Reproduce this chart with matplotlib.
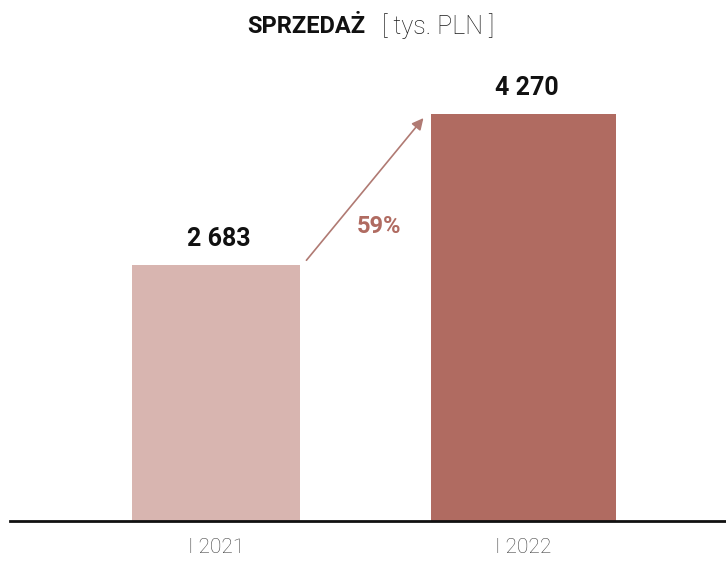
import matplotlib.pyplot as plt
from matplotlib.patches import FancyArrowPatch

categories = ['I 2021', 'I 2022']
values = [2683, 4270]
labels = ['2 683', '4 270']
growth = '59%'

colors = ['#d8b5b0', '#b06b61']
widths = [0.546, 0.60]

plt.rcParams['font.family'] = ['Roboto', 'DejaVu Sans']

fig = plt.figure(figsize=(7.26, 5.66), dpi=100)
ax = fig.add_axes([0.0138, 0.0795, 0.9862, 0.842])

x = list(range(len(categories)))
ax.bar(x, values, width=widths, color=colors, zorder=2)

ax.set_xlim(-0.67, 1.658)
ax.set_ylim(0, 5000)

for xi, v, lab in zip(x, values, labels):
    ax.annotate(lab, (xi, v), xytext=(2, 10), textcoords='offset points',
                ha='center', va='bottom', fontsize=18, fontweight='bold', color='#111111')

# strzalka wzrostu miedzy slupkami
start = (x[0] + widths[0] / 2 + 0.015, values[0] + 30)
end = (x[1] - widths[1] / 2 - 0.02, values[1] - 20)
arrow = FancyArrowPatch(start, end, arrowstyle='-|>', mutation_scale=17,
                        color='#b07a73', lw=1.2, zorder=3)
ax.add_patch(arrow)
mx = (start[0] + end[0]) / 2
my = (start[1] + end[1]) / 2
ax.annotate(growth, (mx, my), xytext=(10, -27), textcoords='offset points',
            ha='center', va='center', fontsize=17, fontweight='bold', color='#b06b61')

for s in ['top', 'right', 'left']:
    ax.spines[s].set_visible(False)
ax.spines['bottom'].set_linewidth(2)
ax.spines['bottom'].set_color('#111111')
ax.set_yticks([])
ax.set_xticks(x)
ax.set_xticklabels(categories, fontsize=15, fontweight='light', color='#404040')
ax.tick_params(axis='x', length=0, pad=12)

fig.text(0.503, 0.954, 'SPRZEDAŻ', ha='right', va='center', fontsize=17,
         fontweight='bold', color='#111111')
fig.text(0.526, 0.954, '[ tys. PLN ]', ha='left', va='center', fontsize=18,
         fontweight='light', color='#1a1a1a')

fig.savefig('out.png', dpi=100)
